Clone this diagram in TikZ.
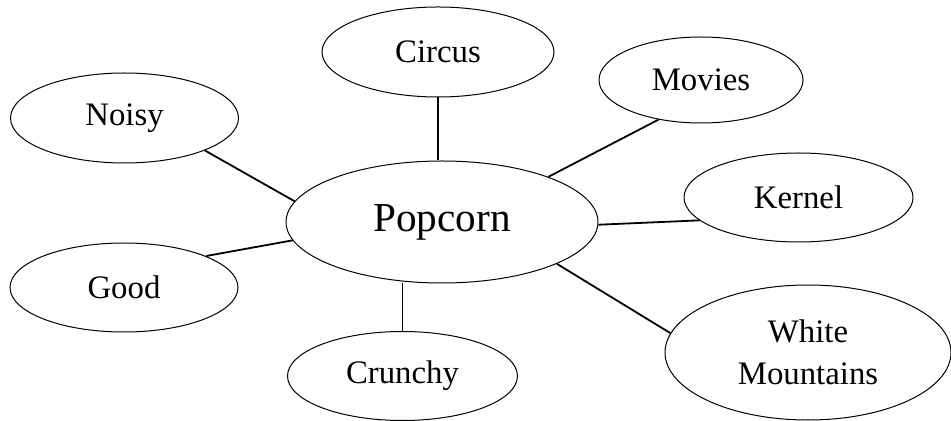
\documentclass[tikz,border=0pt]{standalone}
\usepackage{fontspec}
\setmainfont{Liberation Serif}
\usetikzlibrary{shapes.geometric}

\begin{document}
\begin{tikzpicture}[x=0.5pt,y=-0.5pt]
\useasboundingbox (0,0) rectangle (951,421);
\begin{scope}[every node/.style={ellipse,draw,line width=0.5pt,inner sep=0pt,
              font=\fontsize{16.4}{21}\selectfont}]
    \node[minimum width=156pt,minimum height=61pt,font=\fontsize{20.6}{24}\selectfont] (pop) at (442,222) {Popcorn};
    \node[minimum width=116pt,minimum height=45pt] (circus) at (438,52) {Circus};
    \node[minimum width=102pt,minimum height=43pt] (movies) at (701,80) {Movies};
    \node[minimum width=114pt,minimum height=45pt] (noisy) at (124.5,118) {Noisy};
    \node[minimum width=114.5pt,minimum height=44.5pt] (kernel) at (798.5,197.5) {Kernel};
    \node[minimum width=114pt,minimum height=44.5pt] (good) at (124,287.5) {Good};
    \node[minimum width=115pt,minimum height=44.5pt] (crunchy) at (402.5,376) {Crunchy};
    \node[minimum width=143pt,minimum height=67.5pt,align=center] (white) at (808,352.5) {White\\Mountains};
\end{scope}

\begin{scope}[every edge/.style={draw=black,line width=0.9pt}]
    \path (circus.south) edge (circus.south |- pop.north);
    \path (movies.-137) edge (pop.23);
    \path (noisy.-22) edge (pop.172);
    \path (kernel.-167) edge (pop.-1);
    \path (good.21) edge (pop.187);
    \path (crunchy.north) edge (crunchy.north |- pop.south);
    \path (white.172) edge (pop.-20);
\end{scope}
\end{tikzpicture}
\end{document}
